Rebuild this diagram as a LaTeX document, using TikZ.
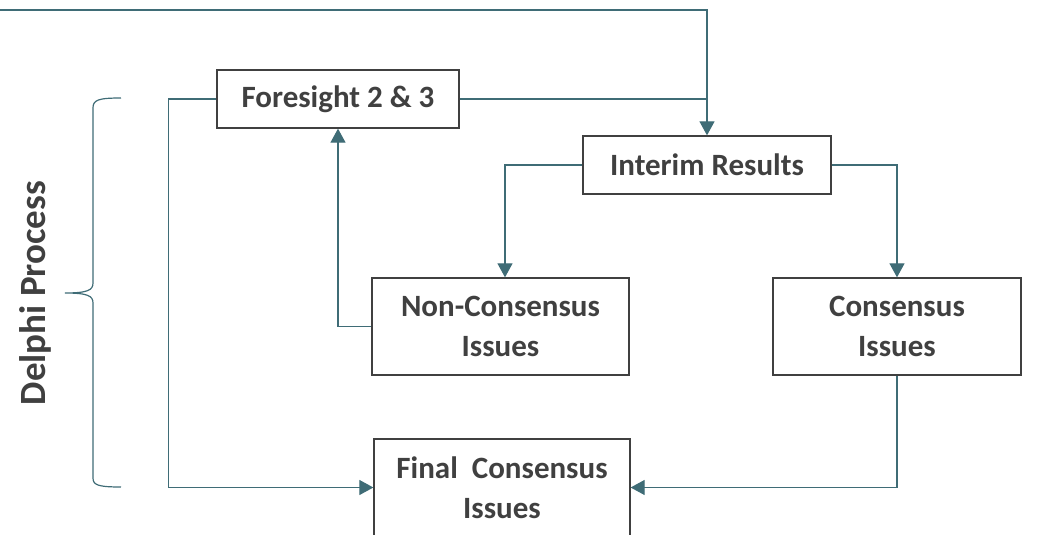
\documentclass[tikz,border=0pt]{standalone}
\usepackage{fontspec}
\setmainfont{Carlito}
\usetikzlibrary{arrows.meta}
\definecolor{linkcol}{HTML}{3F6C76}
\definecolor{boxcol}{HTML}{404040}

\begin{document}
\begin{tikzpicture}[x=1pt,y=-1pt,
  box/.style={draw=boxcol,line width=1.3pt,text=boxcol,align=center,inner sep=0pt,
    font=\bfseries\fontsize{31}{40}\selectfont},
  link/.style={draw=linkcol,line width=1.2pt,-{Triangle[length=14pt,width=15pt]}},
  plain/.style={draw=linkcol,line width=1.2pt}]
\path[use as bounding box] (0,0) rectangle (1061,535);
\begin{scope}
\clip (0,0) rectangle (1061,535);
\node[box,minimum width=242,minimum height=58] (fore) at (338,99) {Foresight 2 \& 3};
\node[box,minimum width=248,minimum height=58] (interim) at (707,165) {Interim Results};
\node[box,minimum width=257,minimum height=97] (noncon) at (500.5,326.5) {Non-Consensus\\Issues};
\node[box,minimum width=248,minimum height=97] (con) at (897,326.5) {Consensus\\Issues};
\node[box,minimum width=256,minimum height=97] (final) at (502,487.5) {Final~~Consensus\\Issues};
\end{scope}
\coordinate (topL) at (0,10);
\draw[link] (topL) -| (interim.north);
\draw[plain] (fore.east) -- (fore.east -| interim.north);
\draw[link] (interim.west) -| ([xshift=4.5]noncon.north);
\draw[link] (interim.east) -| (con.north);
\draw[link] (noncon.west) -| (fore.south);
\draw[link] (fore.west) -- ++(-48,0) |- (final.west);
\draw[link] (con.south) |- (final.east);
\draw[plain] (121,98) .. controls (98,98) and (93,100) .. (93,108) -- (93,283)
  .. controls (93,290) and (88,293) .. (65,293) .. controls (88,293) and (93,296) .. (93,303)
  -- (93,478) .. controls (93,485) and (98,487) .. (121,487);
\node[rotate=90,text=boxcol,font=\bfseries\fontsize{37}{40}\selectfont] (delphi) at (35,293) {Delphi Process};
\end{tikzpicture}
\end{document}
